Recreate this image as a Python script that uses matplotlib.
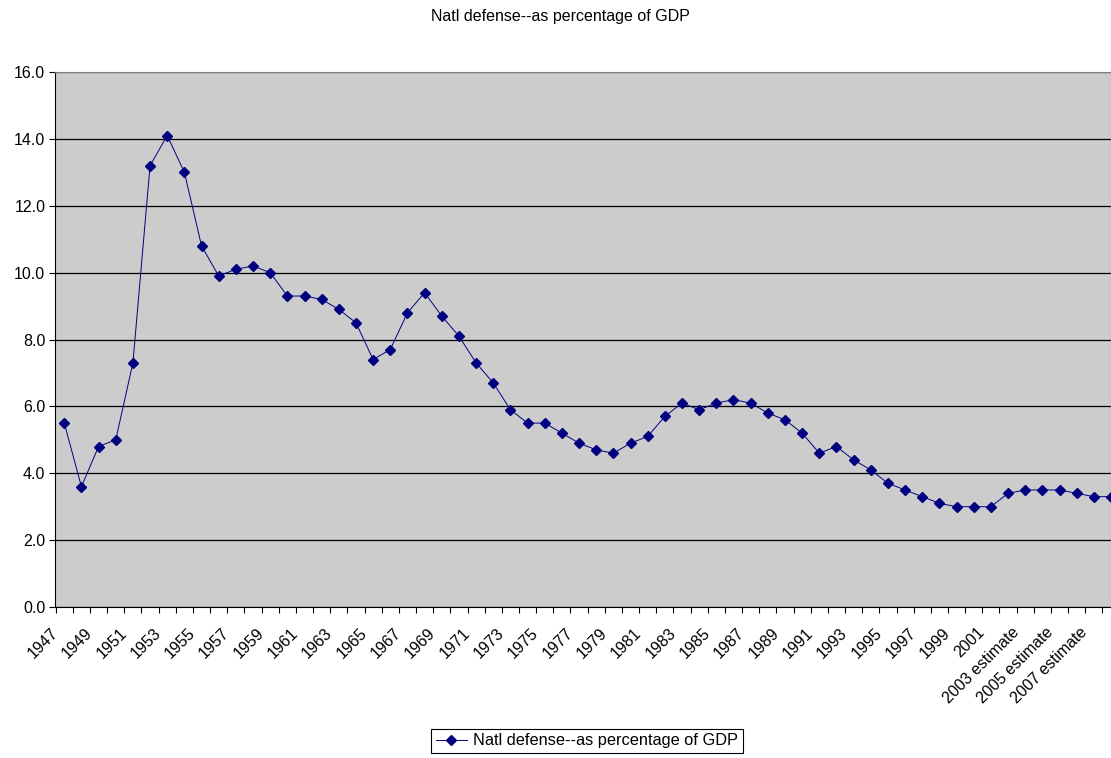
import numpy as np
import matplotlib
matplotlib.use("Agg")
import matplotlib.pyplot as plt
from matplotlib.transforms import ScaledTranslation

plt.rcParams['font.family'] = ['Liberation Sans', 'DejaVu Sans']

# 年度（2002年以降は推計値）
years = list(range(1947, 2009))
labels = [str(y) if y <= 2001 else f"{y} estimate" for y in years]

# 国防費の対GDP比 [%]
values = [5.5, 3.6, 4.8, 5.0, 7.3, 13.2, 14.1, 13.0, 10.8, 9.9,
          10.1, 10.2, 10.0, 9.3, 9.3, 9.2, 8.9, 8.5, 7.4, 7.7,
          8.8, 9.4, 8.7, 8.1, 7.3, 6.7, 5.9, 5.5, 5.5, 5.2,
          4.9, 4.7, 4.6, 4.9, 5.1, 5.7, 6.1, 5.9, 6.1, 6.2,
          6.1, 5.8, 5.6, 5.2, 4.6, 4.8, 4.4, 4.1, 3.7, 3.5,
          3.3, 3.1, 3.0, 3.0, 3.0, 3.4, 3.5, 3.5, 3.5, 3.4,
          3.3, 3.3]

title = "Natl defense--as percentage of GDP"
fs = 11.5

fig = plt.figure(figsize=(11.11, 7.58), dpi=100)
ax = fig.add_axes([55 / 1111, 1 - 607 / 758, 1 - 55 / 1111, (607 - 72) / 758])
ax.set_facecolor('#CCCCCC')

x = np.arange(len(values))
ax.plot(x, values, color='#000080', linewidth=0.7, marker='D', markersize=5.3,
        markerfacecolor='#000080', markeredgecolor='#000080', label=title,
        zorder=3)

# 軸の設定
ax.set_ylim(0, 16)
yt = np.arange(0, 16.1, 2)
ax.set_yticks(yt)
ax.set_yticklabels([f"{v:.1f}" for v in yt], fontsize=fs)
ax.yaxis.grid(True, color='black', linewidth=0.9)
ax.set_axisbelow(True)

ax.set_xticks(np.arange(-0.5, len(values), 1))
ax.set_xticklabels([])
ax.set_xticks(x[::2], minor=True)
ax.set_xticklabels(labels[::2], minor=True, rotation=45, ha='right', va='top',
                   rotation_mode='anchor', fontsize=fs)
ax.tick_params(axis='x', which='minor', length=0, pad=0)
ax.tick_params(axis='x', which='major', length=4, width=0.8, color='black')
ax.tick_params(axis='y', length=4, width=0.8, pad=3)
ax.set_xlim(-0.54, len(values) - 1)

# ラベルを少し左下へずらす（tick_params の後で設定）
shift = ScaledTranslation(-14 / 100, -18 / 100, fig.dpi_scale_trans)
for lab in ax.get_xticklabels(minor=True):
    lab.set_transform(lab.get_transform() + shift)

for side in ['top', 'right']:
    ax.spines[side].set_color('#808080')
ax.spines['left'].set_color('black')
ax.spines['bottom'].set_color('black')

fig.text(560 / 1111, 1 - 16 / 758, title, ha='center', va='center', fontsize=fs)

leg = fig.legend(loc='center', bbox_to_anchor=(587 / 1111, 1 - 741 / 758),
                 fontsize=fs + 0.3, fancybox=False, edgecolor='black', framealpha=1,
                 borderpad=0.3, borderaxespad=0, handlelength=1.9,
                 handletextpad=0.4)
leg.get_frame().set_linewidth(0.8)

plt.savefig('out.png', dpi=100)
